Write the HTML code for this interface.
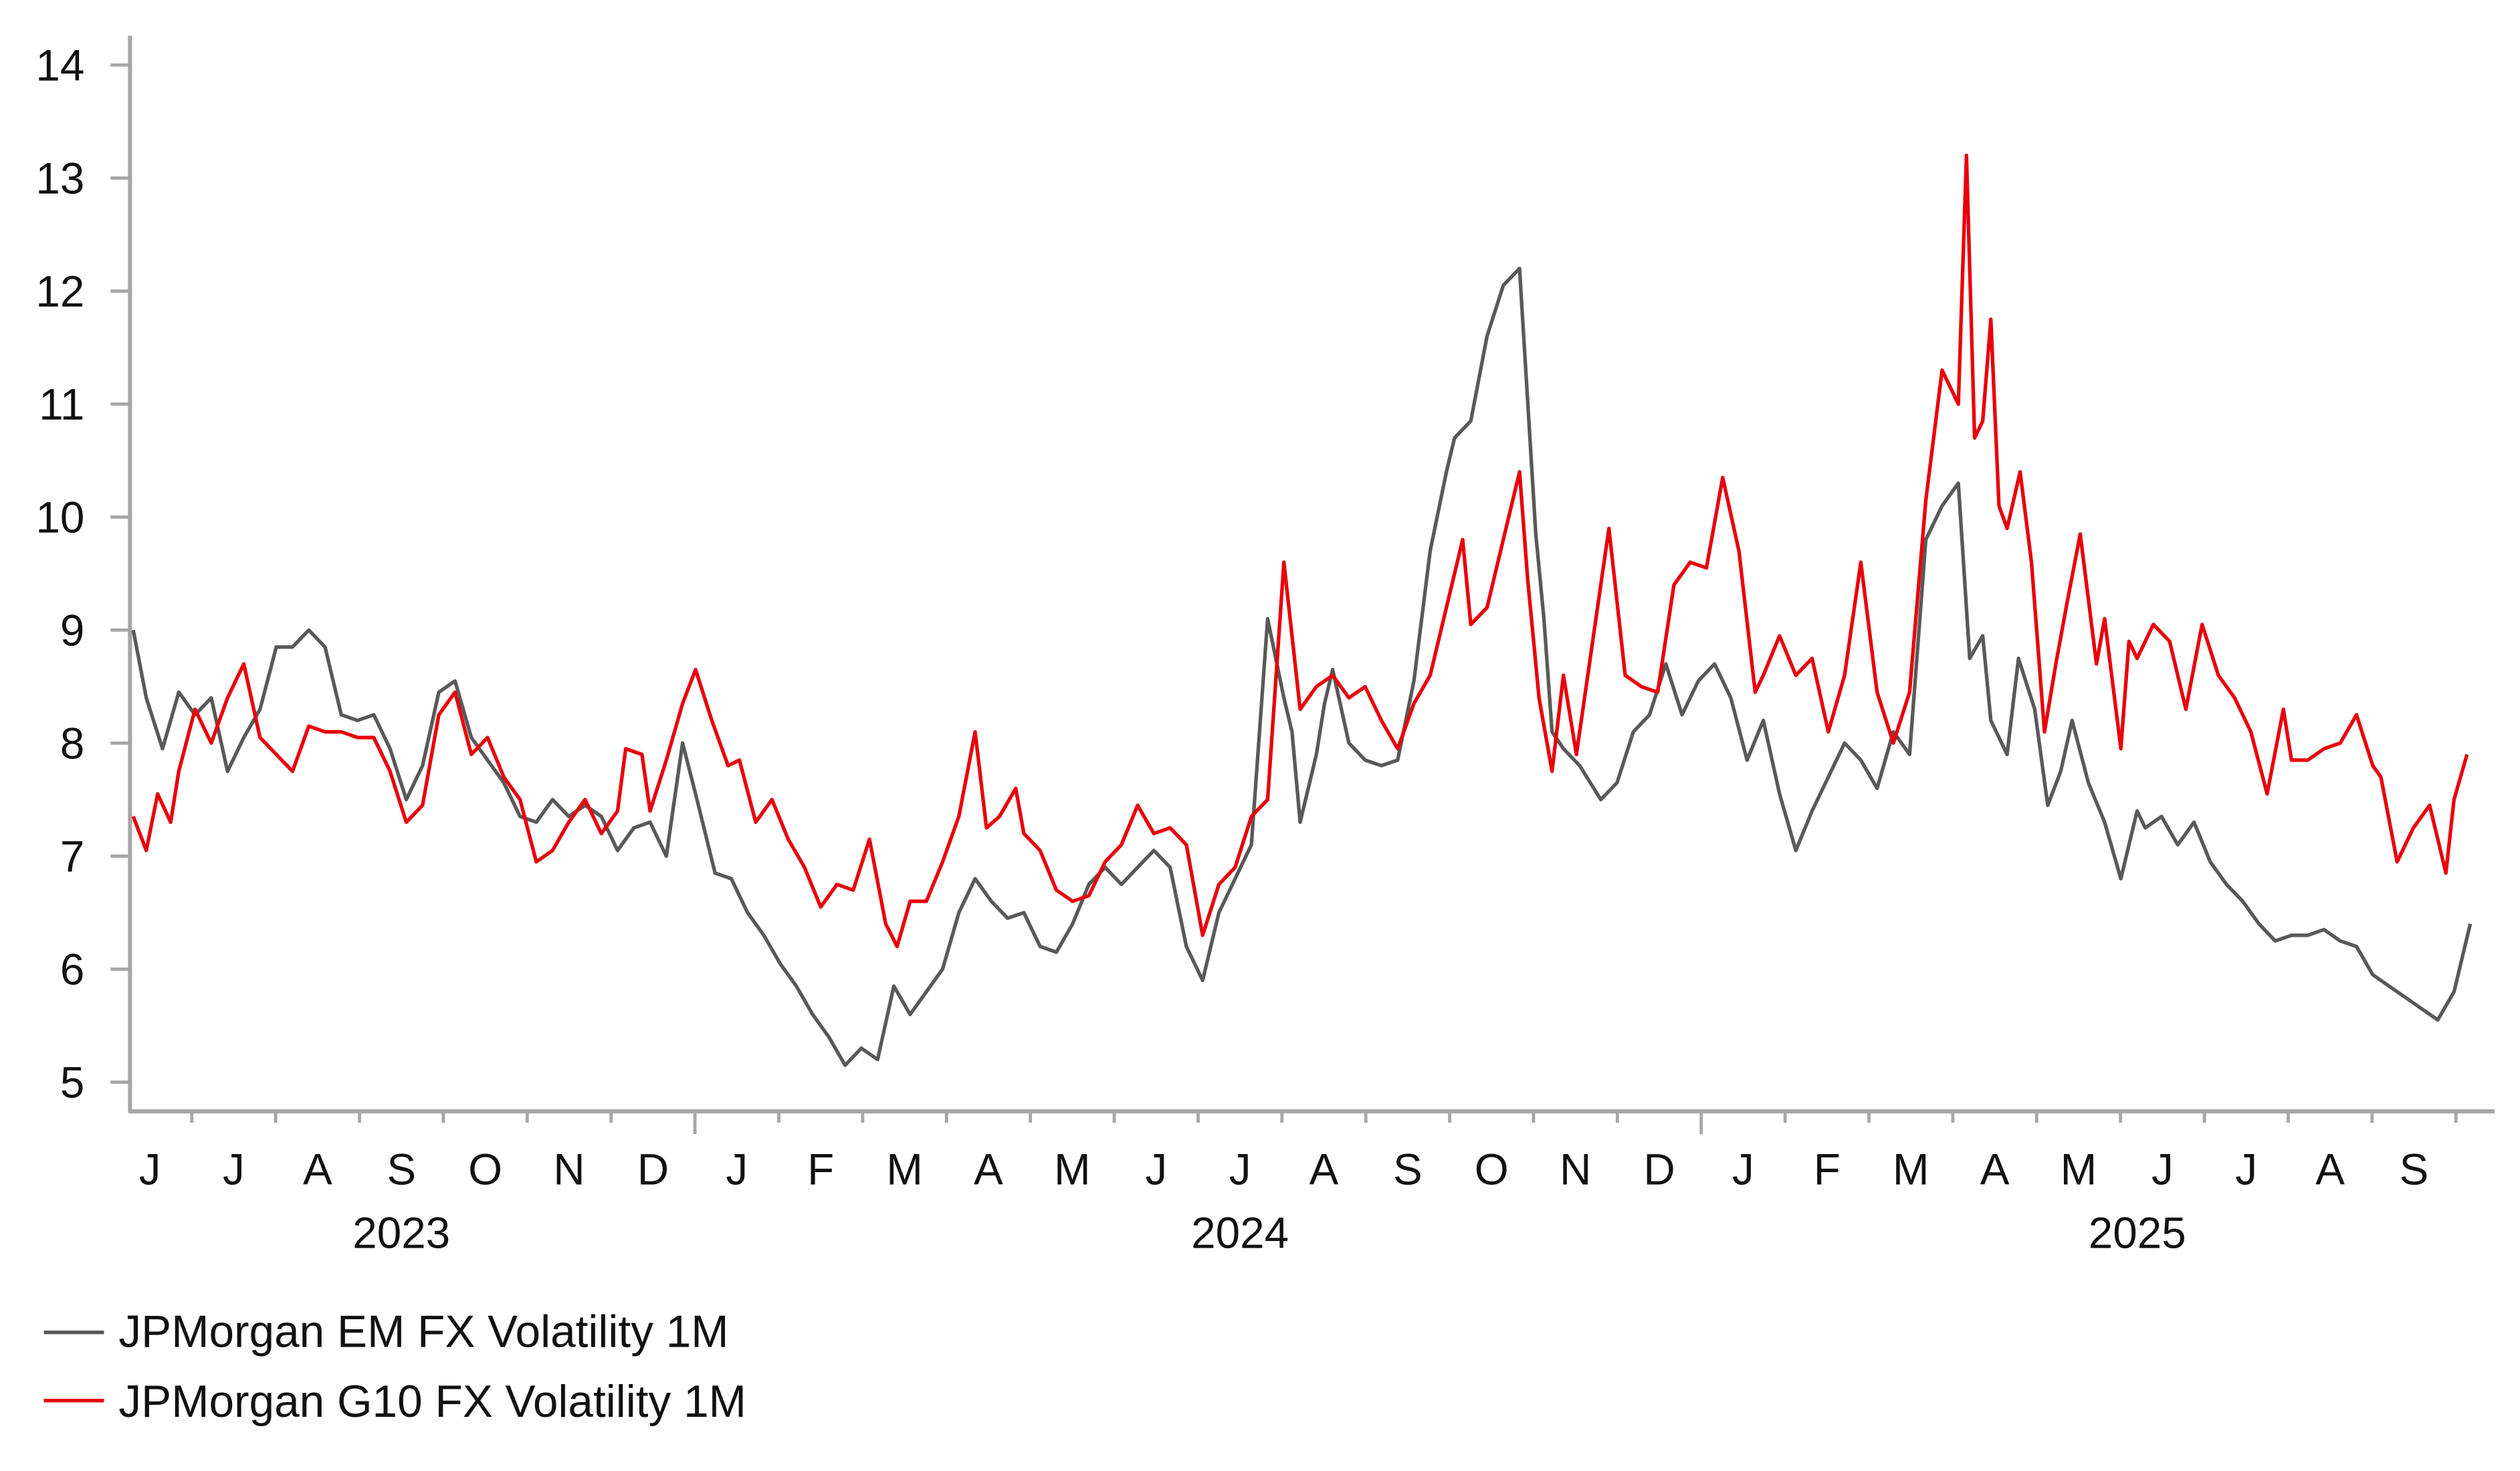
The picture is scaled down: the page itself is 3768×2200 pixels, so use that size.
<!DOCTYPE html>
<html><head><meta charset="utf-8"><style>html,body{margin:0;padding:0;background:#fff}svg{display:block}text{font-family:"Liberation Sans",Arial,sans-serif;fill:#111}</style></head>
<body>
<svg id="chart" width="3768" height="2200" viewBox="0 0 1550.6 905.3" xmlns="http://www.w3.org/2000/svg">
<g id="axes"></g>
<g id="series"></g>
<g>
<line x1="27" y1="820" x2="64" y2="820" stroke="#595959" stroke-width="2.2"/>
<text x="73" y="829" font-size="27.8">JPMorgan EM FX Volatility 1M</text>
<line x1="27" y1="862" x2="64" y2="862" stroke="#e8000b" stroke-width="2.2"/>
<text x="73" y="872" font-size="27.8">JPMorgan G10 FX Volatility 1M</text>
</g>
</svg>
<script>
const yTicks=[5,6,7,8,9,10,11,12,13,14];
const monthLabels=["J","J","A","S","O","N","D","J","F","M","A","M","J","J","A","S","O","N","D","J","F","M","A","M","J","J","A","S"];
const yearLabels=["2023","2024","2025"];
const yearStartMonth=[0,7,19];
const yearLabelMonth=[3.5,13.5,24.2];
// time in chart units (0 = start, 1451 = end), values in vol points
const emT=[0,8,18,28,38,48,58,68,78,88,98,108,118,128,138,148,158,168,178,188,198,208,218,228,238,248,258,268,278,288,298,308,318,328,338,346,358,368,378,388,398,408,418,428,438,448,458,468,478,488,498,508,518,528,538,548,558,568,578,588,598,608,618,628,638,648,658,668,678,688,698,708,713,718,728,733,738,748,758,768,778,788,798,808,813,823,833,843,853,863,868,873,880,890,903,913,923,933,943,953,963,973,983,993,1003,1013,1023,1033,1043,1053,1063,1073,1083,1093,1103,1113,1123,1130,1138,1143,1153,1160,1170,1178,1186,1193,1203,1213,1223,1233,1238,1248,1258,1268,1278,1288,1298,1308,1318,1328,1338,1348,1358,1368,1378,1388,1398,1408,1418,1428,1438,1445,1451];
const emV=[9.0,8.4,7.95,8.45,8.25,8.4,7.75,8.05,8.3,8.85,8.85,9.0,8.85,8.25,8.2,8.25,7.95,7.5,7.8,8.45,8.55,8.05,7.85,7.65,7.35,7.3,7.5,7.35,7.45,7.35,7.05,7.25,7.3,7.0,8.0,7.55,6.85,6.8,6.5,6.3,6.05,5.85,5.6,5.4,5.15,5.3,5.2,5.85,5.6,5.8,6.0,6.5,6.8,6.6,6.45,6.5,6.2,6.15,6.4,6.75,6.9,6.75,6.9,7.05,6.9,6.2,5.9,6.5,6.8,7.1,9.1,8.4,8.1,7.3,7.9,8.35,8.65,8.0,7.85,7.8,7.85,8.55,9.7,10.4,10.7,10.85,11.6,12.05,12.2,9.85,9.1,8.1,7.95,7.8,7.5,7.65,8.1,8.25,8.7,8.25,8.55,8.7,8.4,7.85,8.2,7.55,7.05,7.4,7.7,8.0,7.85,7.6,8.1,7.9,9.8,10.1,10.3,8.75,8.95,8.2,7.9,8.75,8.3,7.45,7.75,8.2,7.65,7.3,6.8,7.4,7.25,7.35,7.1,7.3,6.95,6.75,6.6,6.4,6.25,6.3,6.3,6.35,6.25,6.2,5.95,5.85,5.75,5.65,5.55,5.8,6.4];
const g10T=[0,8,15,23,28,38,48,58,68,78,88,98,108,118,128,138,148,158,168,178,188,198,208,218,228,238,248,258,268,278,288,298,303,313,318,328,338,346,356,366,373,383,393,403,413,423,433,443,453,463,470,478,488,498,508,518,525,533,543,548,558,568,578,588,598,608,618,628,638,648,658,668,678,688,698,708,713,718,728,738,748,758,768,778,788,798,808,818,823,833,843,853,858,865,873,880,888,898,908,918,928,938,948,958,968,978,988,998,1003,1013,1023,1033,1043,1053,1063,1073,1083,1093,1103,1113,1123,1128,1133,1138,1143,1148,1153,1161,1168,1176,1183,1190,1198,1208,1213,1223,1228,1233,1243,1253,1263,1273,1283,1293,1303,1313,1323,1328,1338,1348,1358,1368,1378,1383,1393,1403,1413,1423,1428,1436,1444,1451];
const g10V=[7.35,7.05,7.55,7.3,7.75,8.3,8.0,8.4,8.7,8.05,7.9,7.75,8.15,8.1,8.1,8.05,8.05,7.75,7.3,7.45,8.25,8.45,7.9,8.05,7.7,7.5,6.95,7.05,7.3,7.5,7.2,7.4,7.95,7.9,7.4,7.85,8.35,8.65,8.2,7.8,7.85,7.3,7.5,7.15,6.9,6.55,6.75,6.7,7.15,6.4,6.2,6.6,6.6,6.95,7.35,8.1,7.25,7.35,7.6,7.2,7.05,6.7,6.6,6.65,6.95,7.1,7.45,7.2,7.25,7.1,6.3,6.75,6.9,7.35,7.5,9.6,8.95,8.3,8.5,8.6,8.4,8.5,8.2,7.95,8.35,8.6,9.2,9.8,9.05,9.2,9.8,10.4,9.45,8.4,7.75,8.6,7.9,8.9,9.9,8.6,8.5,8.45,9.4,9.6,9.55,10.35,9.7,8.45,8.6,8.95,8.6,8.75,8.1,8.6,9.6,8.45,8.0,8.45,10.15,11.3,11.0,13.2,10.7,10.85,11.75,10.1,9.9,10.4,9.6,8.1,8.7,9.25,9.85,8.7,9.1,7.95,8.9,8.75,9.05,8.9,8.3,9.05,8.6,8.4,8.1,7.55,8.3,7.85,7.85,7.95,8.0,8.25,7.8,7.7,6.95,7.25,7.45,6.85,7.5,7.9];
const X0=80,X1=1535,Y0=684;
const PX0=82,PX1=1533;
const tMax=1451;
function xScale(t){return PX0+(PX1-PX0)*t/tMax;}
function yScale(v){return 666-(v-5)*(666-40)/9;}
const M0=66.4,MW=51.6;
function xMonth(m){return M0+MW*m;}
const NS="http://www.w3.org/2000/svg";
const axes=document.getElementById('axes');
function mk(tag,attrs,parent){const e=document.createElementNS(NS,tag);for(const k in attrs)e.setAttribute(k,attrs[k]);parent.appendChild(e);return e;}
let yl=mk('line',{x1:X0,y1:22,x2:X0,y2:Y0,stroke:'#a6a6a6','stroke-width':2.5},axes);


let xl=mk('line',{x1:X0-1,y1:Y0,x2:X1,y2:Y0,stroke:'#a6a6a6','stroke-width':2.5},axes);


yTicks.forEach(v=>{
 const y=yScale(v);
 const tk=mk('line',{x1:68,y1:y,x2:X0,y2:y,stroke:'#a6a6a6','stroke-width':2},axes);
 
 
 const t=mk('text',{x:52,y:y+9.5,'font-size':27,'text-anchor':'end'},axes);
 t.textContent=v;
 
 
});
for(let m=1;m<=28;m++){
 const x=xMonth(m);
 const yr=yearStartMonth.includes(m);
 const tk=mk('line',{x1:x,y1:Y0,x2:x,y2:Y0+(yr?14:7),stroke:'#a6a6a6','stroke-width':2},axes);
 
 
}
monthLabels.forEach((l,i)=>{
 const t=mk('text',{x:xMonth(i+0.5),y:729,'font-size':27,'text-anchor':'middle'},axes);
 t.textContent=l;
 
 
});
yearLabels.forEach((l,i)=>{
 const t=mk('text',{x:xMonth(yearLabelMonth[i]),y:768,'font-size':27,'text-anchor':'middle'},axes);
 t.textContent=l;
 
 
});
const series=document.getElementById('series');
function draw(T,V,color,name){
 const d=T.map((t,i)=>(i?'L':'M')+xScale(t).toFixed(1)+','+yScale(V[i]).toFixed(1)).join('');
 const p=mk('path',{d:d,fill:'none',stroke:color,'stroke-width':2.2,'stroke-linejoin':'round'},series);
 
 
}
draw(emT,emV,'#595959','em-fx-vol-line');
draw(g10T,g10V,'#e8000b','g10-fx-vol-line');
</script>
</body></html>
